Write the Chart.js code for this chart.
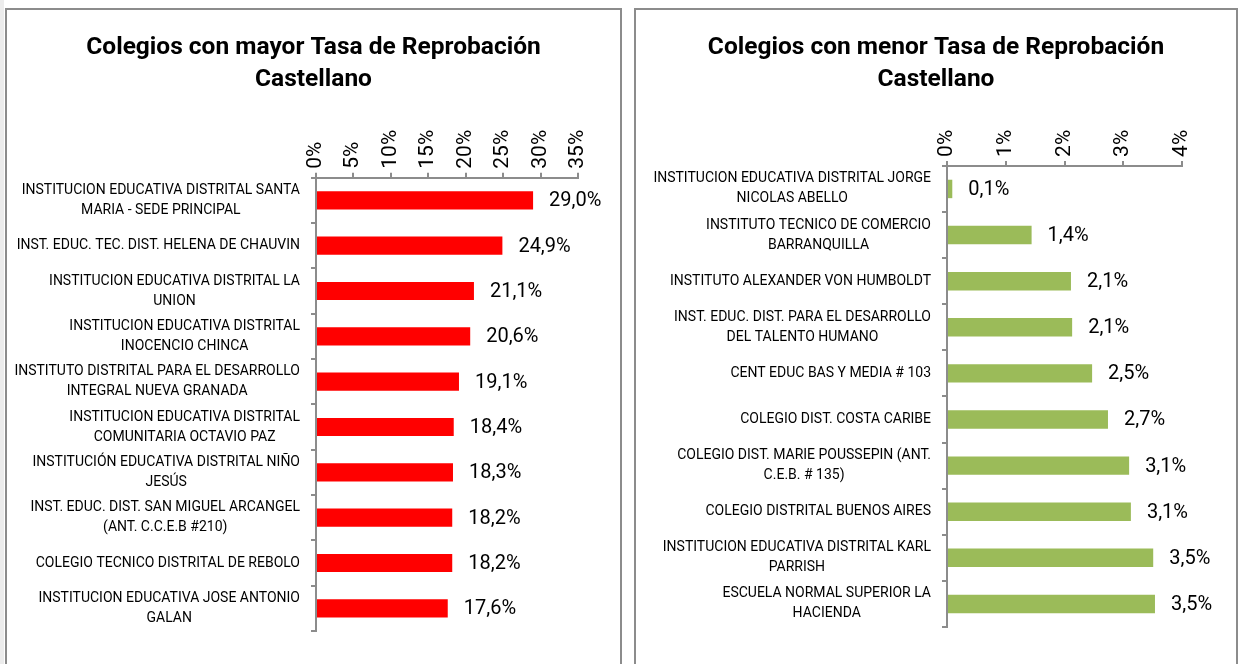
<!DOCTYPE html>
<html>
<head>
<meta charset="utf-8">
<script src="https://cdn.jsdelivr.net/npm/chart.js@4.4.0/dist/chart.umd.min.js"></script>
<style>
  body { margin: 0; background: #fff; overflow: hidden; }
  .strip { position: absolute; left: 0; top: 0; width: 4px; height: 664px; background: #ececec; }
  .box { position: absolute; top: 8px; height: 660px; border: 2px solid #8c8c8c; background: #fff; }
  #box1 { left: 5px; width: 613px; }
  #box2 { left: 634px; width: 600px; }
</style>
</head>
<body>
<div class="strip"></div>
<div class="box" id="box1"><canvas id="chart1"></canvas></div>
<div class="box" id="box2"><canvas id="chart2"></canvas></div>
<script>
// datos: colegios con mayor tasa
var mayorColegios = [
  ["INSTITUCION EDUCATIVA DISTRITAL SANTA", "MARIA - SEDE PRINCIPAL"],
  ["INST. EDUC. TEC. DIST. HELENA DE CHAUVIN"],
  ["INSTITUCION EDUCATIVA DISTRITAL LA", "UNION"],
  ["INSTITUCION EDUCATIVA DISTRITAL", "INOCENCIO CHINCA"],
  ["INSTITUTO DISTRITAL PARA EL DESARROLLO", "INTEGRAL NUEVA GRANADA"],
  ["INSTITUCION EDUCATIVA DISTRITAL", "COMUNITARIA OCTAVIO PAZ"],
  ["INSTITUCIÓN EDUCATIVA DISTRITAL NIÑO", "JESÚS"],
  ["INST. EDUC. DIST. SAN MIGUEL ARCANGEL", "(ANT. C.C.E.B #210)"],
  ["COLEGIO TECNICO DISTRITAL DE REBOLO"],
  ["INSTITUCION EDUCATIVA JOSE ANTONIO", "GALAN"]
];
var mayorTasa = [29.0, 24.9, 21.1, 20.6, 19.1, 18.4, 18.3, 18.2, 18.2, 17.6];
var mayorTicks = [0, 5, 10, 15, 20, 25, 30, 35];

// datos: colegios con menor tasa
var menorColegios = [
  ["INSTITUCION EDUCATIVA DISTRITAL JORGE", "NICOLAS ABELLO"],
  ["INSTITUTO TECNICO DE COMERCIO", "BARRANQUILLA"],
  ["INSTITUTO ALEXANDER VON HUMBOLDT"],
  ["INST. EDUC. DIST. PARA EL DESARROLLO", "DEL TALENTO HUMANO"],
  ["CENT EDUC BAS Y MEDIA # 103"],
  ["COLEGIO DIST. COSTA CARIBE"],
  ["COLEGIO DIST. MARIE POUSSEPIN (ANT.", "C.E.B. # 135)"],
  ["COLEGIO DISTRITAL BUENOS AIRES"],
  ["INSTITUCION EDUCATIVA DISTRITAL KARL", "PARRISH"],
  ["ESCUELA NORMAL SUPERIOR LA", "HACIENDA"]
];
var menorTasa = [0.09, 1.44, 2.11, 2.13, 2.47, 2.74, 3.10, 3.13, 3.51, 3.54];
var menorTicks = [0, 1, 2, 3, 4];

var gris = "#8c8c8c";

// etiquetas de categorias (centradas por bloque, alineadas a la derecha) y valores
var etiquetasPlugin = {
  id: "etiquetas",
  afterDatasetsDraw: function (chart) {
    var ctx = chart.ctx;
    var yScale = chart.scales.y;
    var area = chart.chartArea;
    var cats = chart.data.labels;
    ctx.save();
    ctx.fillStyle = "#000";
    ctx.textBaseline = "middle";
    ctx.textAlign = "center";
    ctx.font = "14px Roboto";
    for (var i = 0; i < cats.length; i++) {
      var lines = cats[i];
      var w = 0;
      lines.forEach(function (l) { w = Math.max(w, ctx.measureText(l).width); });
      var cx = area.left - 16 - w / 2;
      var cy = yScale.getPixelForValue(i);
      for (var k = 0; k < lines.length; k++) {
        ctx.fillText(lines[k], cx, cy + (k - (lines.length - 1) / 2) * 20);
      }
    }
    // valores al final de cada barra
    ctx.textAlign = "left";
    ctx.font = "20px Roboto";
    var meta = chart.getDatasetMeta(0);
    meta.data.forEach(function (bar, i) {
      var v = chart.data.datasets[0].data[i];
      ctx.fillText(v.toFixed(1).replace(".", ",") + "%", bar.x + 16, bar.y + 1);
    });
    ctx.restore();
  }
};

function crearGrafico(id, titulo, cats, vals, ticks, color, yWidth, padRight, padBottom) {
  var ctx = document.getElementById(id).getContext("2d");
  return new Chart(ctx, {
    type: "bar",
    data: {
      labels: cats,
      datasets: [{
        data: vals,
        backgroundColor: color,
        borderWidth: 0,
        barPercentage: 0.4,
        categoryPercentage: 1
      }]
    },
    options: {
      indexAxis: "y",
      responsive: true,
      maintainAspectRatio: false,
      animation: false,
      layout: { padding: { left: 0, right: 0, bottom: padBottom, top: 0 } },
      plugins: {
        legend: { display: false },
        tooltip: { enabled: false },
        title: {
          display: true,
          text: titulo,
          color: "#000",
          font: { family: "Roboto", size: 24.5, weight: "bold", lineHeight: 1.3 },
          padding: { top: 22, bottom: 30 }
        }
      },
      scales: {
        x: {
          position: "top",
          min: ticks[0],
          max: ticks[ticks.length - 1],
          afterBuildTicks: function (s) { s.ticks = ticks.map(function (t) { return { value: t }; }); },
          ticks: {
            minRotation: 90,
            maxRotation: 90,
            padding: 4,
            labelOffset: 25,
            color: "#000",
            font: { family: "Roboto", size: 21 },
            callback: function (v) { return v + "%"; }
          },
          grid: { drawOnChartArea: false, tickLength: 5, color: gris, lineWidth: 2 },
          border: { color: gris, width: 2 }
        },
        y: {
          ticks: { display: false },
          grid: { drawOnChartArea: false, offset: true, tickLength: 5, color: gris, lineWidth: 2 },
          border: { color: gris, width: 2 },
          afterFit: function (s) { s.width = yWidth; }
        },
        // margen derecho vacio, asi el titulo queda centrado en el recuadro
        margen: {
          type: "linear",
          position: "right",
          ticks: { display: false },
          grid: { display: false },
          border: { display: false },
          afterFit: function (s) { s.width = padRight; }
        }
      }
    },
    plugins: [etiquetasPlugin]
  });
}

crearGrafico("chart1", ["Colegios con mayor Tasa de Reprobación", "Castellano"],
  mayorColegios, mayorTasa, mayorTicks, "#ff0000", 309, 42, 39);
crearGrafico("chart2", ["Colegios con menor Tasa de Reprobación", "Castellano"],
  menorColegios, menorTasa, menorTicks, "#9bbb59", 311, 54, 43);
</script>
</body>
</html>
